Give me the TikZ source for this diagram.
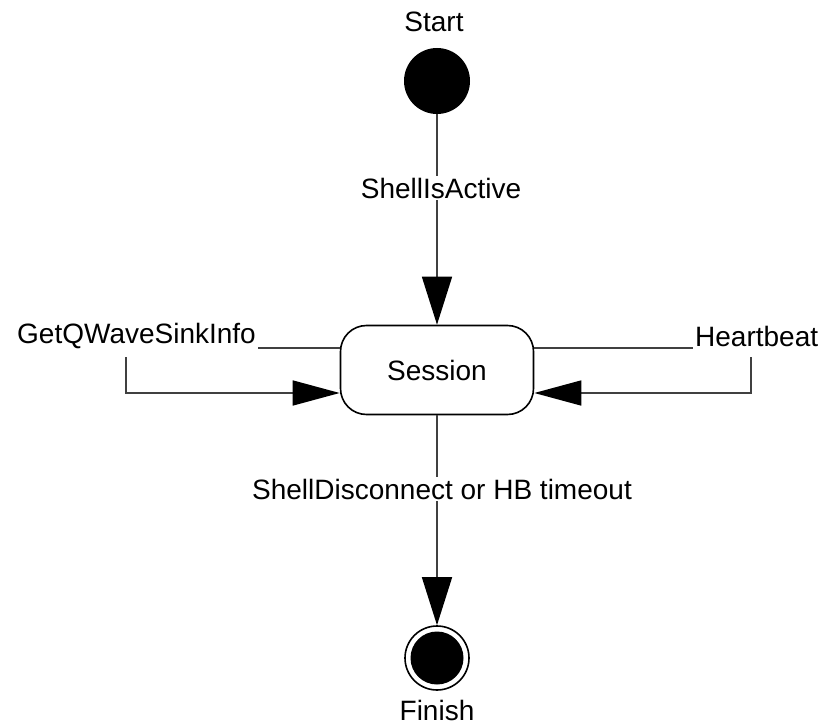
\documentclass[tikz,border=0pt]{standalone}
\usepackage{fontspec}
\setmainfont{Liberation Sans}
\usetikzlibrary{arrows.meta}
\begin{document}
\begin{tikzpicture}[x=1pt,y=-1pt,
  lbl/.style={font=\fontsize{28}{30}\selectfont, inner sep=2pt},
  edge/.style={line width=1.6pt, draw=black!75},
  vtip/.style={-{Triangle[length=48pt,width=30pt,color=black]}},
  htip/.style={-{Triangle[length=47pt,width=25pt,color=black]}}]
\useasboundingbox (0,0) rectangle (821,727);
\node[lbl] (startlbl) at (434,22) {Start};
\node[circle, fill=black, minimum size=66pt, inner sep=0pt] (start) at (437,81) {};
\node[draw, line width=1.6pt, rounded corners=26pt, minimum width=193pt, minimum height=89pt, lbl] (session) at (437,370) {Session};
\node[circle, draw, line width=1.6pt, minimum size=64pt, inner sep=0pt] (finish) at (437,658) {};
\node[circle, fill=black, minimum size=53pt, inner sep=0pt] (finishin) at (437,658) {};
\node[lbl] (finishlbl) at (437,710) {Finish};

\node[lbl, fill=white] (l1) at (441,188) {ShellIsActive};
\node[lbl, fill=white] (l2) at (442,489) {ShellDisconnect or HB timeout};
\node[lbl, anchor=east] (l3) at (258,336) {GetQWaveSinkInfo};
\node[lbl, anchor=west] (l4) at (693,336) {Heartbeat};

\draw[edge] (start.south) -- (start.south |- l1.north);
\draw[edge, vtip] (session.north |- l1.south) -- (session.north);
\draw[edge] (session.south) -- (session.south |- l2.north);
\draw[edge, vtip] (finish.north |- l2.south) -- (finish.north);

\coordinate (a1) at (126,357);
\coordinate (a2) at (126,393);
\draw[edge] (l3.east |- 0,348) -- (session.west |- 0,348);
\draw[edge, htip] (a1) -- (a2) -- (session.west |- a2);

\coordinate (b1) at (751,357);
\coordinate (b2) at (751,393);
\draw[edge] (session.east |- 0,348) -- (l4.west |- 0,348);
\draw[edge, htip] (b1) -- (b2) -- (session.east |- b2);
\end{tikzpicture}
\end{document}
